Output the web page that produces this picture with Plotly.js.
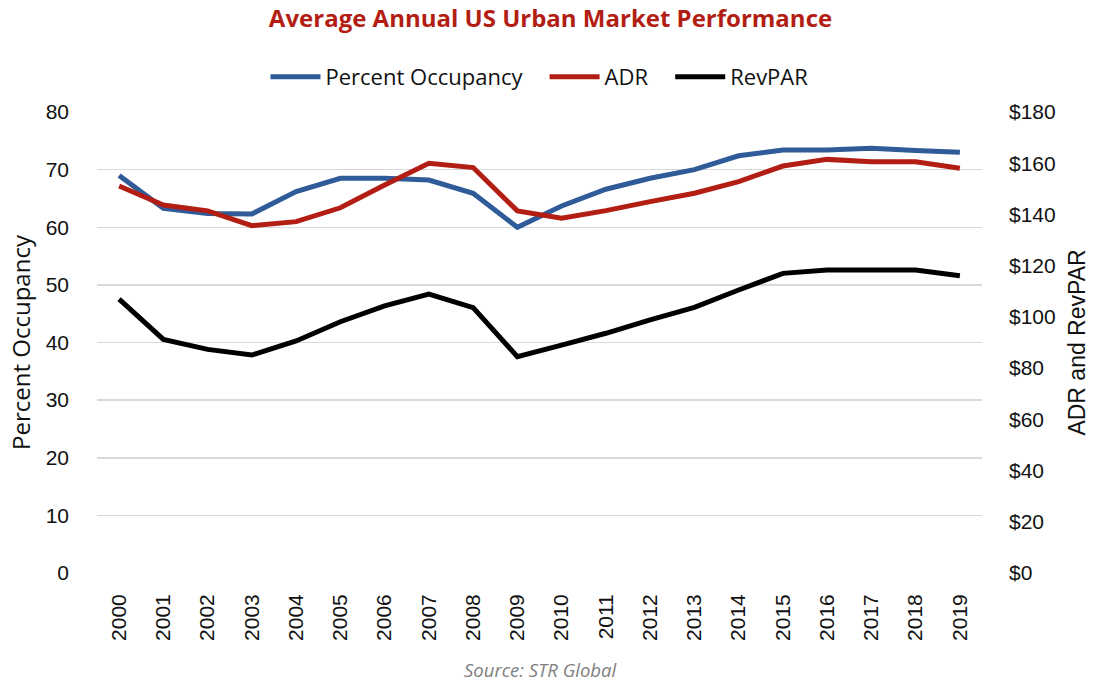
<!DOCTYPE html>
<html>
<head>
<meta charset="utf-8">
<script src="https://cdn.plot.ly/plotly-3.0.1.min.js"></script>
<style>html,body{margin:0;padding:0;background:#fff;}#chart{width:1101px;height:685px;}</style>
</head>
<body>
<div id="chart"></div>
<script>
const years = ["2000","2001","2002","2003","2004","2005","2006","2007","2008","2009","2010","2011","2012","2013","2014","2015","2016","2017","2018","2019"];
const occupancy = [69.0,63.3,62.4,62.3,66.2,68.5,68.5,68.2,65.9,60.0,63.7,66.6,68.5,70.0,72.4,73.4,73.4,73.7,73.3,73.0];
const adr = [151.1,143.7,141.4,135.6,137.2,142.6,151.5,160.0,158.3,141.4,138.5,141.5,145.0,148.3,152.8,158.9,161.5,160.6,160.6,158.0];
const revpar = [106.9,91.2,87.3,85.1,90.6,98.1,104.3,108.9,103.6,84.5,89.0,93.6,98.8,103.7,110.5,117.0,118.3,118.3,118.3,116.1];
const leftTicks = [0,10,20,30,40,50,60,70,80];
const rightTicks = [0,20,40,60,80,100,120,140,160,180];
const rightTickText = ["$0","$20","$40","$60","$80","$100","$120","$140","$160","$180"];

const FONT = "Open Sans, sans-serif";
const TICKFONT = "Liberation Sans, Arial, sans-serif";
const GAP = "&nbsp;&nbsp;&nbsp;";
const traces = [
  {x: years, y: occupancy, name: "Percent Occupancy" + GAP, type: "scatter", mode: "lines",
   line: {color: "#2F5B98", width: 5}, yaxis: "y"},
  {x: years, y: adr, name: "ADR" + GAP, type: "scatter", mode: "lines",
   line: {color: "#B21E14", width: 5}, yaxis: "y2"},
  {x: years, y: revpar, name: "RevPAR", type: "scatter", mode: "lines",
   line: {color: "#000000", width: 5}, yaxis: "y2"}
];
const layout = {
  width: 1101, height: 685,
  margin: {l: 97, r: 119, t: 112, b: 112},
  paper_bgcolor: "#fff", plot_bgcolor: "#fff",
  font: {family: FONT, size: 19, color: "#111"},
  title: {text: "<b>Average Annual US Urban Market Performance</b>", x: 0.5, xanchor: "center",
          y: 0.973, yanchor: "middle", font: {family: FONT, size: 24, color: "#B21E14"}},
  showlegend: true,
  legend: {orientation: "h", x: 0.5, xanchor: "center", y: 1.076, yanchor: "middle",
           font: {family: FONT, size: 22, color: "#111"}, itemwidth: 50, tracegroupgap: 0},
  xaxis: {type: "category", range: [-0.5, 19.5], tickangle: -90, showgrid: false, zeroline: false, showline: false,
          ticks: "", ticklabelstandoff: 16, tickfont: {family: TICKFONT, size: 21, color: "#111"}},
  yaxis: {range: [0, 80], tickvals: leftTicks, showgrid: true, gridcolor: "#d9d9d9", gridwidth: 1.5,
          zeroline: false, showline: false, ticks: "", ticklabelstandoff: 27,
          tickfont: {family: TICKFONT, size: 21, color: "#111"},
          title: {text: "Percent Occupancy", font: {family: FONT, size: 24, color: "#111"}, standoff: 8}},
  yaxis2: {range: [0, 180], tickvals: rightTicks, ticktext: rightTickText, overlaying: "y", side: "right",
           showgrid: false, zeroline: false, showline: false, ticks: "", ticklabelstandoff: 26,
           tickfont: {family: TICKFONT, size: 21, color: "#111"},
           title: {text: "ADR and RevPAR", font: {family: TICKFONT, size: 23, color: "#111"}, standoff: 14}},
  annotations: [{text: "<i>Source: STR Global</i>", xref: "paper", yref: "paper", x: 0.5, y: -0.21,
                 xanchor: "center", yanchor: "middle", showarrow: false,
                 font: {family: FONT, size: 18.5, color: "#7f7f7f"}}]
};
Plotly.newPlot("chart", traces, layout, {displayModeBar: false, staticPlot: true});
</script>
</body>
</html>
